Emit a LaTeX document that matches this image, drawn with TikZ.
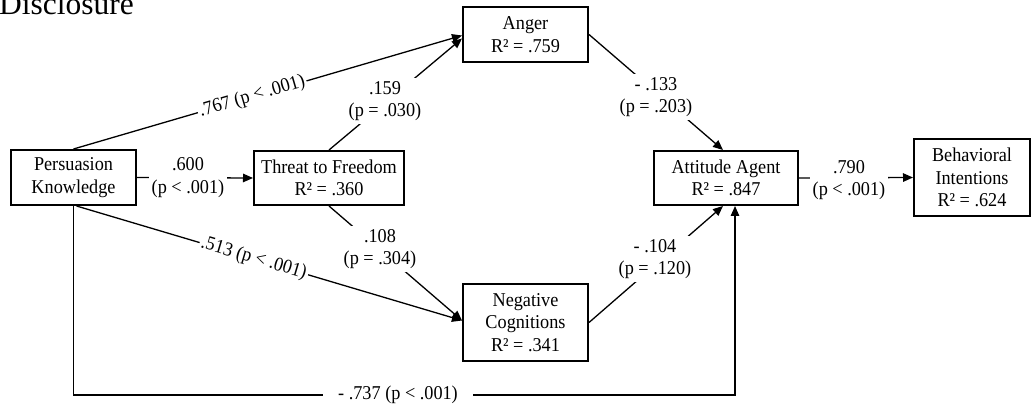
\documentclass[tikz,border=0pt]{standalone}
\usepackage{fontspec}
\setmainfont{Liberation Serif}[FakeStretch=0.93]
\newfontfamily\plainserif{Liberation Serif}
\usetikzlibrary{arrows.meta,calc}
\newcommand{\diagfont}{\fontsize{19.6}{22.5}\selectfont}
\begin{document}
\begin{tikzpicture}[x=1pt,y=-1pt,
  box/.style={draw, line width=2pt, align=center, inner sep=0pt, font=\diagfont},
  lbl/.style={fill=white, align=center, inner sep=3pt, font=\diagfont},
  arr/.style={line width=1.3pt, -{Triangle[length=10pt,width=8.5pt]}}]
\useasboundingbox (0,0) rectangle (1034,411);

\node[anchor=base west, inner sep=0pt, font=\plainserif\fontsize{31.5}{36}\selectfont] (D) at (-1,15) {Disclosure};

\node[box, minimum width=125pt, minimum height=55pt] (PK) at (73.5,177.5) {Persuasion\\Knowledge};
\node[box, minimum width=150pt, minimum height=54pt] (TF) at (329,178) {Threat to Freedom\\R² = .360};
\node[box, minimum width=125pt, minimum height=55pt] (AN) at (525.5,34.5) {Anger\\R² = .759};
\node[box, minimum width=144pt, minimum height=54pt] (AA) at (726,178) {Attitude Agent\\R² = .847};
\node[box, minimum width=116pt, minimum height=77pt] (BI) at (972,177.5) {Behavioral\\Intentions\\R² = .624};
\node[box, minimum width=125pt, minimum height=77pt] (NC) at (525.5,322.5) {Negative\\Cognitions\\R² = .341};

% PK -> Anger
\draw[arr] (PK.north) -- node[lbl, sloped, pos=0.46, inner sep=2pt] (l1) {.767 (p < .001)} ($(AN.west)+(0,1)$);
% TF -> Anger
\draw[arr] (TF.north) -- ($(AN.west)+(0,4)$);
\node[lbl] (l2) at (385,101) {.159\\(p = .030)};
% Anger -> AA
\draw[arr] (AN.east) -- ($(AA.north)+(-3,0)$);
\node[lbl] (l3) at (656,97) {- .133\\(p = .203)};
% PK -> TF
\draw[arr] (PK.east) -- (TF.west);
\node[lbl] (l4) at (188,177.5) {.600\\(p < .001)};
% TF -> NC
\draw[arr] (TF.south) -- ($(NC.west)+(0,-2)$);
\node[lbl] (l5) at (380,249) {.108\\(p = .304)};
% PK -> NC
\draw[arr] ($(PK.south)+(3,0)$) -- node[lbl, sloped, pos=0.46, inner sep=2pt] (l6) {.513 (p < .001)} ($(NC.west)+(0,-2)$);
% NC -> AA
\draw[arr] (NC.east) -- ($(AA.south)+(-3,0)$);
\node[lbl] (l7) at (655,259) {- .104\\(p = .120)};
% AA -> BI
\draw[arr] (AA.east) -- (BI.west);
\node[lbl] (l8) at (849,180) {.790\\(p < .001)};
% PK -> AA (bottom route)
\coordinate (c1) at (73.5,395);
\coordinate (c2) at (735,395);
\draw[arr] (PK.south) -- (c1) -- (c2) -- (c2 |- AA.south);
\node[lbl, inner xsep=15pt] (l9) at (398,395) {- .737 (p < .001)};
\end{tikzpicture}
\end{document}
